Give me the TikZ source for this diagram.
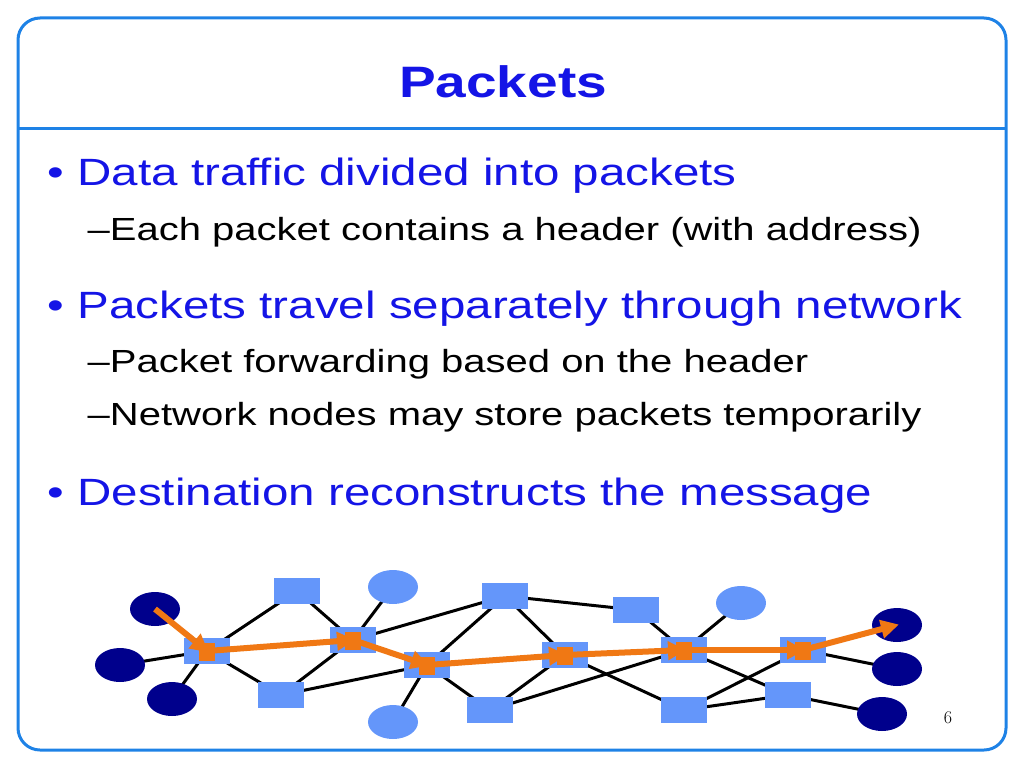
\documentclass[tikz,border=0pt]{standalone}
\usepackage{fontspec}
\setmainfont{Liberation Sans}[FakeStretch=1.25]
\usetikzlibrary{arrows.meta, calc, shapes.geometric}
\definecolor{TitleBlue}{RGB}{20,20,230}
\definecolor{FrameBlue}{RGB}{30,130,230}
\definecolor{Router}{RGB}{100,150,250}
\definecolor{Host}{RGB}{0,0,140}
\definecolor{Path}{RGB}{240,120,20}
\tikzset{RouterBox/.style={
    inner sep=0pt,
    minimum width=46pt,
    minimum height=26pt,
    fill=Router
    }
}
\tikzset{HostDark/.style={
    ellipse, inner sep=0pt,
    minimum width=50pt,
    minimum height=34pt,
    fill=Host
    }
}
\tikzset{HostLight/.style={
    ellipse, inner sep=0pt,
    minimum width=50pt,
    minimum height=34pt,
    fill=Router
    }
}
\tikzset{Bullet/.style={anchor=base west, text=TitleBlue, font=\fontsize{38}{40}\selectfont}}
\tikzset{SubBullet/.style={anchor=base west, font=\fontsize{32}{34}\selectfont}}
\tikzset{Hop/.style={Path, line width=6pt, -{Triangle[length=18pt,width=18pt]}, shorten >=-2pt}}
\begin{document}
\begin{tikzpicture}[x=1pt, y=-1pt, thick]
    \useasboundingbox (0,0) rectangle (1024,768);

    % frame and title
    \draw[FrameBlue, line width=3pt, rounded corners=22pt] (18,18) rectangle (1006,750);
    \draw[FrameBlue, line width=3pt] (18,128) -- (1006,128);
    \node (title) [text=TitleBlue, font=\bfseries\fontsize{44}{46}\selectfont] at (503,82) {Packets};

    % text
    \node (b1) [Bullet] at (44,185) {\textbullet\ Data traffic divided into packets};
    \node (s1) [SubBullet] at (84,240) {--Each packet contains a header (with address)};
    \node (b2) [Bullet] at (44,318) {\textbullet\ Packets travel separately through network};
    \node (s2) [SubBullet] at (84,372) {--Packet forwarding based on the header};
    \node (s3) [SubBullet] at (84,425) {--Network nodes may store packets temporarily};
    \node (b3) [Bullet] at (44,505) {\textbullet\ Destination reconstructs the message};
    \node (page) [font=\fontfamily{lmr}\selectfont\fontsize{18}{20}\selectfont] at (948,718) {6};

    % hosts
    \coordinate (L1) at (155,609);
    \coordinate (L2) at (120,665);
    \coordinate (L3) at (172,699);
    \coordinate (R1) at (897,625);
    \coordinate (R2) at (897,669);
    \coordinate (R3) at (882,714);
    \coordinate (T1) at (393,587);
    \coordinate (T2) at (741,603);
    \coordinate (B1) at (393,722);

    % routers
    \coordinate (A) at (207,651);
    \coordinate (C) at (297,591);
    \coordinate (D) at (353,640);
    \coordinate (E) at (281,695);
    \coordinate (F) at (427,665);
    \coordinate (G) at (505,596);
    \coordinate (H) at (565,655);
    \coordinate (I) at (490,710);
    \coordinate (J) at (636,610);
    \coordinate (K) at (684,650);
    \coordinate (M) at (684,710);
    \coordinate (N) at (803,650);
    \coordinate (P) at (788,695);

    % links
    \foreach \u/\v in {L1/A, L2/A, L3/A, A/C, A/E, A/D, C/D, T1/D, E/D, D/G, E/F,
        F/G, F/B1, F/I, F/H, G/H, G/J, J/K, T2/K, H/I, H/M, I/K, H/K, K/N,
        K/P, M/N, M/P, P/R3, N/R1, N/R2}
        \draw[line width=3pt] (\u) -- (\v);
    \foreach \n in {A,C,D,E,F,G,H,I,J,K,M,N,P}
        \node (box\n) [RouterBox] at (\n) {};
    \foreach \n in {L1,L2,L3,R1,R2,R3}
        \node (host\n) [HostDark] at (\n) {};
    \foreach \n in {T1,T2,B1}
        \node (host\n) [HostLight] at (\n) {};

    % packet route
    \foreach \u/\v in {L1/A, A/D, D/F, F/H, H/K, K/N, N/R1}
        \draw[Hop] (\u) -- (\v);
    \foreach \n in {A,D,F,H,K,N}
        \fill[Path] ($(\n)+(-8,-8)$) rectangle ($(\n)+(8,10)$);
\end{tikzpicture}
\end{document}
